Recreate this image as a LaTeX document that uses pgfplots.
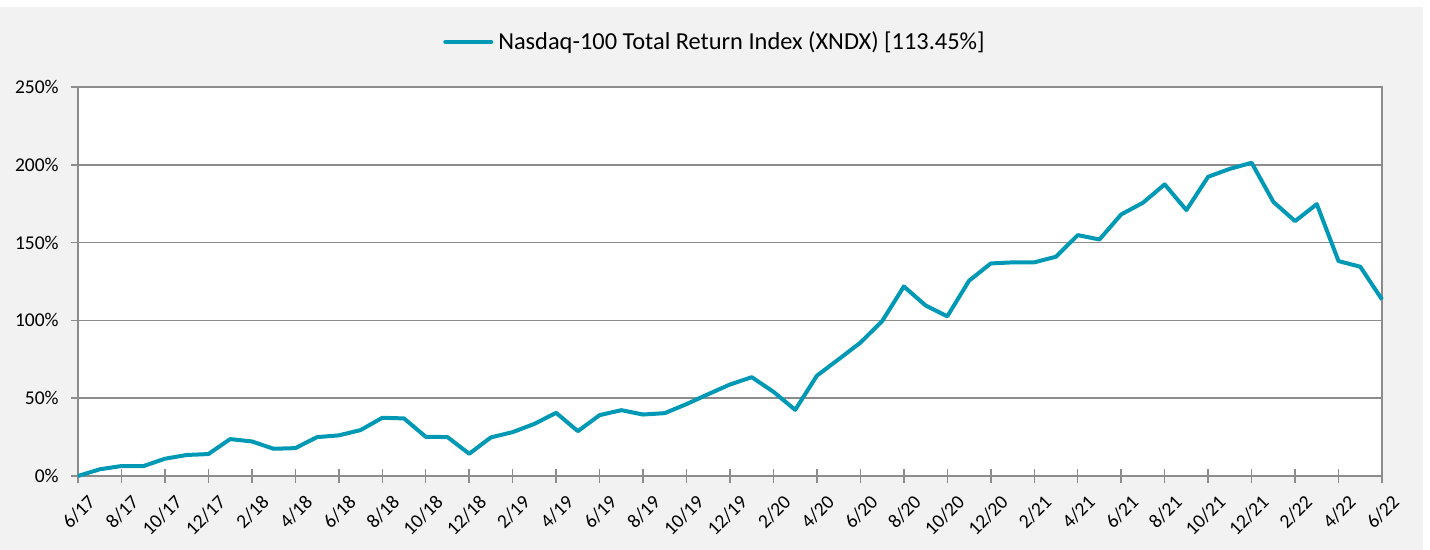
\documentclass[border=0pt]{standalone}
\usepackage{pgfplots}
\pgfplotsset{compat=1.18}
\usepackage{fontspec}
\setmainfont{Carlito}
\definecolor{linecol}{RGB}{0,153,181}
\definecolor{bggray}{RGB}{242,242,242}
\definecolor{gridgray}{RGB}{140,140,140}
\begin{document}
\begin{tikzpicture}[font=\fontsize{9.75pt}{11.7pt}\selectfont]
\useasboundingbox (0,0) rectangle (715pt,275pt);
\fill[bggray] (0,0) rectangle (711.5pt,271.5pt);
\begin{axis}[
  at={(39pt,37pt)}, anchor=south west,
  scale only axis, width=652pt, height=194.5pt,
  xmin=0, xmax=60, ymin=0, ymax=250,
  axis background/.style={fill=white},
  axis line style={gridgray, line width=0.75pt},
  ytick={0,50,100,150,200,250},
  yticklabels={0\%,50\%,100\%,150\%,200\%,250\%},
  xtick={0,2,...,60},
  xticklabels={6/17,8/17,10/17,12/17,2/18,4/18,6/18,8/18,10/18,12/18,2/19,4/19,6/19,8/19,10/19,12/19,2/20,4/20,6/20,8/20,10/20,12/20,2/21,4/21,6/21,8/21,10/21,12/21,2/22,4/22,6/22},
  tick pos=left,
  tick align=center, major tick length=7pt,
  tick style={gridgray, line width=0.75pt},
  ymajorgrids, grid style={gridgray, line width=0.75pt},
  yticklabel style={anchor=east, inner sep=0pt, xshift=-6pt},
  xticklabel style={rotate=45, anchor=east, inner sep=0pt, yshift=-10.5pt, xshift=-0.5pt},
  clip=false,
  legend style={at={(0.4877,1.1157)}, anchor=center, draw=none, fill=none,
    font=\fontsize{12.2pt}{14.6pt}\selectfont, inner sep=0pt,
    nodes={inner sep=0pt}, column sep=2.5pt},
  legend image code/.code={\draw[line width=2pt, line cap=round] (0pt,0pt) -- (23pt,0pt);},
]
\addplot[color=linecol, line width=2pt, line join=round] coordinates {
(0,0) (1,4.3) (2,6.4) (3,6.3) (4,11.1) (5,13.5) (6,14.1) (7,23.7) (8,22.2) (9,17.5)
(10,17.9) (11,25.0) (12,26.1) (13,29.5) (14,37.4) (15,37.0) (16,25.2) (17,25.0) (18,14.3) (19,24.8)
(20,28.2) (21,33.5) (22,40.6) (23,28.8) (24,39.1) (25,42.3) (26,39.5) (27,40.4) (28,46.2) (29,52.6)
(30,58.8) (31,63.5) (32,54.1) (33,42.5) (34,64.5) (35,75.0) (36,85.7) (37,99.5) (38,121.8) (39,109.6)
(40,102.6) (41,125.5) (42,136.6) (43,137.3) (44,137.3) (45,140.9) (46,154.8) (47,152.0) (48,168.1) (49,175.6)
(50,187.4) (51,170.9) (52,192.3) (53,197.4) (54,201.3) (55,176.2) (56,163.8) (57,174.7) (58,138.1) (59,134.5)
(60,113.45)
};
\addlegendentry{Nasdaq-100 Total Return Index (XNDX) [113.45\%]}
\end{axis}
\end{tikzpicture}
\end{document}
